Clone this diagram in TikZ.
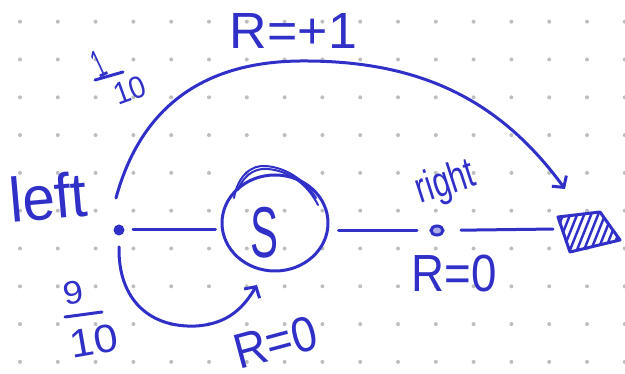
\documentclass[tikz,border=0pt]{standalone}
\usepackage{fontspec}
\setmainfont{Liberation Sans}
\usepackage{graphicx}
\usetikzlibrary{shapes.geometric,arrows.meta}
\definecolor{ink}{RGB}{48,48,200}
\definecolor{dotc}{RGB}{190,190,190}
\newcommand{\handtext}[3]{\resizebox*{#1}{#2}{#3}}
\begin{document}
\begin{tikzpicture}[x=1pt,y=-1pt,
  inkline/.style={draw=ink,line width=3pt,line cap=round,line join=round},
  lbl/.style={text=ink,inner sep=0pt,outer sep=0pt},
  tip/.style={-{Straight Barb[length=8pt,width=18pt]}}]
\useasboundingbox (0,0) rectangle (625,374);
% dotted grid
\foreach \i in {0,...,16}{\foreach \j in {0,...,9}{
  \fill[dotc] ({20+37.8*\i},{21.7+37.8*\j}) circle[radius=2];}}
% nodes
\node[ellipse, inkline, minimum width=106pt, minimum height=96pt, inner sep=0pt] (S) at (275,223) {};
\node[circle, fill=ink, minimum size=11pt, inner sep=0pt] (ldot) at (119,230) {};
\node[ellipse, draw=ink, line width=3pt, fill=ink!40, minimum width=12pt, minimum height=9pt, inner sep=0pt] (rdot) at (437,230.5) {};
\coordinate (boxw) at (556,229);
\coordinate (topend) at (565,189);
\coordinate (botend) at (257,285);
% terminal box
\draw[inkline] (558,217) -- (600,212) -- (620,240) -- (570,252) -- cycle;
\begin{scope}
  \clip (558,217) -- (600,212) -- (620,240) -- (570,252) -- cycle;
  \foreach \k in {0,...,12}{\draw[inkline,line width=2.5pt] ({545+7*\k},260) -- ({565+7*\k},210);}
\end{scope}
% scribbles on S
\draw[inkline,line width=2pt] (234,198) .. controls (238,175) and (252,165) .. (265,166) .. controls (285,167) and (305,180) .. (316,198);
\draw[inkline,line width=2pt] (238,190) .. controls (245,172) and (258,168) .. (268,169) .. controls (290,171) and (308,185) .. (318,205);
% connectors
\draw[inkline, shorten <=14pt, shorten >=5pt] (ldot.center) -- (S.west |- ldot.center);
\draw[inkline, shorten <=9pt, shorten >=20pt] (S.east |- rdot.center) -- (rdot.center);
\draw[inkline, shorten <=24pt, shorten >=3pt] (rdot.center) -- (boxw);
\draw[inkline,tip] ([shift={(-3,-32)}]ldot.center) .. controls (140,110) and (200,62) .. (300,61) .. controls (420,60) and (500,100) .. (topend);
\draw[inkline,tip] ([shift={(0,17)}]ldot.center) .. controls (118,300) and (150,328) .. (196,326) .. controls (230,324) and (245,305) .. (botend);
% labels
\node[lbl] (rplus) at (293.5,30.5) {\handtext{127pt}{35pt}{R=+1}};
% fraction 1/10
\node[lbl, rotate=25] (num1) at (99,64) {\handtext{11pt}{27pt}{1}};
\draw[inkline] (95,80) -- (123,72);
\node[lbl, rotate=20] (den1) at (130,90) {\handtext{32pt}{22pt}{10}};
\node[lbl, rotate=5] (lleft) at (48,197) {\handtext{78pt}{46pt}{left}};
% fraction 9/10
\node[lbl, rotate=10] (num9) at (73,293) {\handtext{20pt}{23pt}{9}};
\draw[inkline] (65,317) -- (102,312);
\node[lbl, rotate=10] (den9) at (94,341) {\handtext{48pt}{28pt}{10}};
\node[lbl, rotate=18] (lright) at (446,184) {\handtext{60pt}{40pt}{right}};
\node[lbl] (r0a) at (454.5,273.5) {\handtext{85pt}{37pt}{R=0}};
\node[lbl, rotate=15] (r0b) at (275.5,342) {\handtext{84pt}{35pt}{R=0}};
\node[lbl] (slabel) at (264,232.5) {\handtext{28pt}{51pt}{S}};
\end{tikzpicture}
\end{document}
